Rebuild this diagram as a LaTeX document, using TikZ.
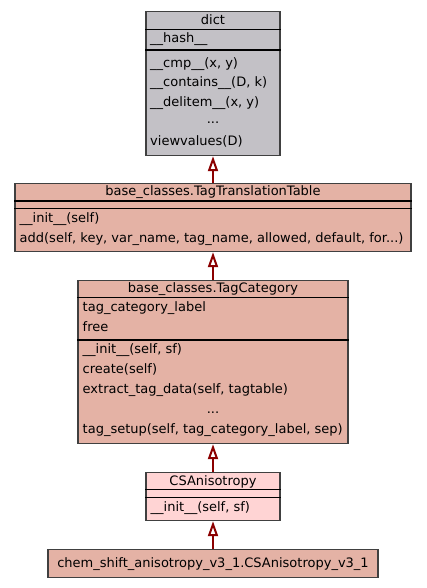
\documentclass[tikz,border=0pt]{standalone}
\usepackage{fontspec}
\setmainfont{DejaVu Sans}
\usetikzlibrary{arrows.meta}

\definecolor{dictgray}{RGB}{195,193,198}
\definecolor{basesalmon}{RGB}{228,178,165}
\definecolor{leafpink}{RGB}{255,212,212}
\definecolor{inhred}{RGB}{139,0,0}

\tikzset{
  classbox/.style={draw=black!75, line width=1.2pt, anchor=north, inner sep=0pt},
  sepline/.style={draw=black, line width=1.2pt},
  member/.style={anchor=base west, inner sep=0pt, font=\fontsize{13}{15}\selectfont},
  ctitle/.style={anchor=base, inner sep=0pt, font=\fontsize{13}{15}\selectfont},
  inherit/.style={draw=inhred, line width=2pt, -{Triangle[open, length=15pt, width=10pt, fill=white, line width=2pt]}},
}

\begin{document}
\begin{tikzpicture}[x=1pt, y=-1pt]
    \useasboundingbox (0,0) rectangle (427,588);

    % class boxes
    \node[classbox, fill=dictgray, minimum width=134pt, minimum height=144pt] (dict) at (213,11) {};
    \node[classbox, fill=basesalmon, minimum width=396pt, minimum height=68pt] (table) at (213,183) {};
    \node[classbox, fill=basesalmon, minimum width=270pt, minimum height=163pt] (cat) at (213,280) {};
    \node[classbox, fill=leafpink, minimum width=134pt, minimum height=48pt] (csa) at (213,472) {};
    \node[classbox, fill=basesalmon, minimum width=330pt, minimum height=28pt] (chem) at (213,549) {};

    % compartment lines
    \foreach \cls/\a/\b in {dict/18.5/39, table/18/25.5, cat/17.5/60, csa/17.5/25.5}{
        \draw[sepline] ([yshift=-\a pt]\cls.north west) -- ([yshift=-\a pt]\cls.north east);
        \draw[sepline] ([yshift=-\b pt]\cls.north west) -- ([yshift=-\b pt]\cls.north east);
    }

    % titles
    \node[ctitle] (dictname) at (213,24.5) {dict};
    \node[ctitle] (tablename) at (213,195.5) {base\_classes.TagTranslationTable};
    \node[ctitle] (catname) at (213,292) {base\_classes.TagCategory};
    \node[ctitle] (csaname) at (213,485.5) {CSAnisotropy};
    \node[ctitle] (chemname) at (213,567.5) {chem\_shift\_anisotropy\_v3\_1.CSAnisotropy\_v3\_1};

    % members of dict
    \foreach \y/\txt [count=\i] in {
        43/{\_\_hash\_\_},
        67.5/{\_\_cmp\_\_(x, y)},
        87/{\_\_contains\_\_(D, k)},
        106.5/{\_\_delitem\_\_(x, y)},
        145.5/{viewvalues(D)}
    }{
        \node[member] (dictm\i) at (150,\y) {\txt};
    }
    \node[ctitle] (dictdots) at (213,123.5) {...};

    % members of TagTranslationTable
    \foreach \y/\txt [count=\i] in {
        222.5/{\_\_init\_\_(self)},
        242.5/{add(self, key, var\_name, tag\_name, allowed, default, for...)}
    }{
        \node[member] (tablem\i) at (19.5,\y) {\txt};
    }

    % members of TagCategory
    \foreach \y/\txt [count=\i] in {
        311/{tag\_category\_label},
        331/{free},
        353.5/{\_\_init\_\_(self, sf)},
        373.5/{create(self)},
        393.5/{extract\_tag\_data(self, tagtable)},
        433.5/{tag\_setup(self, tag\_category\_label, sep)}
    }{
        \node[member] (catm\i) at (82.5,\y) {\txt};
    }
    \node[ctitle] (catdots) at (213,413.5) {...};

    % members of CSAnisotropy
    \node[member] (csam1) at (150.5,511) {\_\_init\_\_(self, sf)};

    % inheritance
    \draw[inherit] (table.north) -- (dict.south);
    \draw[inherit] (cat.north) -- (table.south);
    \draw[inherit] (csa.north) -- (cat.south);
    \draw[inherit] (chem.north) -- (csa.south);
\end{tikzpicture}
\end{document}
